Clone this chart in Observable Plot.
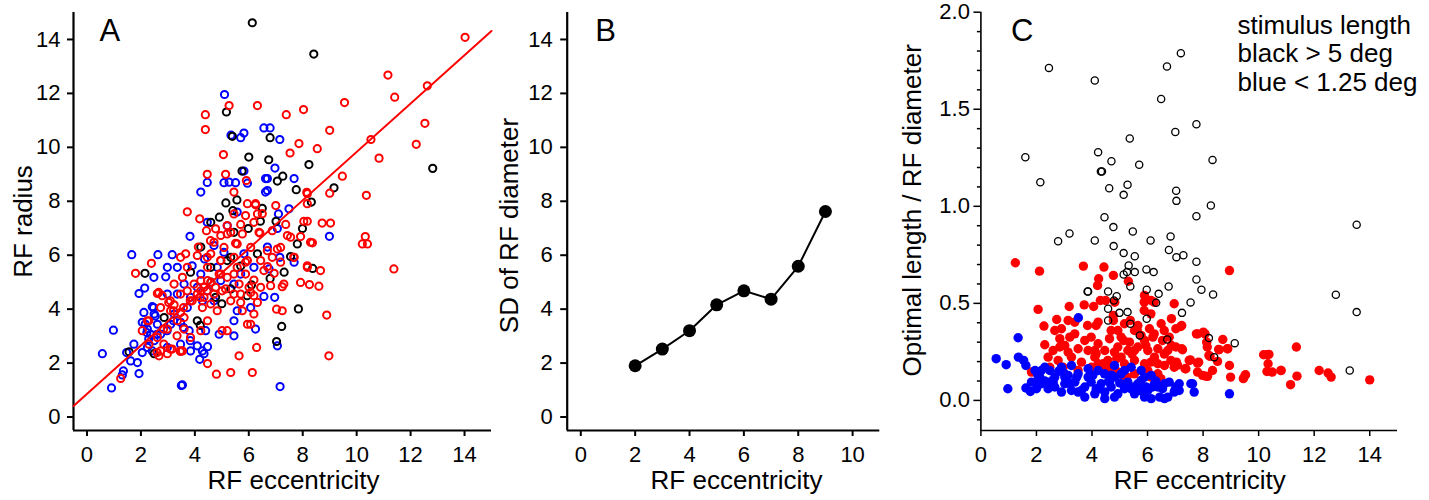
<!DOCTYPE html>
<html><head><meta charset="utf-8">
<script src="https://cdn.jsdelivr.net/npm/d3@7"></script>
<script src="https://cdn.jsdelivr.net/npm/@observablehq/plot@0.6"></script>
<style>
body{margin:0;background:#fff;}
#wrap{position:relative;width:1429px;height:500px;overflow:hidden;background:#fff;}
.panel{position:absolute;top:0;}
</style></head><body><div id="wrap"></div>
<script>
// ---------- Panel A data: RF radius vs RF eccentricity ----------
const aXTicks = [0, 2, 4, 6, 8, 10, 12, 14];
const aYTicks = [0, 2, 4, 6, 8, 10, 12, 14];
const aFitIntercept = 0.86;
const aFitSlope = 0.897;
const aBlack = [[6.13,14.62],[8.41,13.46],[12.82,9.22],[5.17,11.31],[5.39,10.41],[6.79,10.36],[6.0,9.64],[6.74,9.54],[5.75,9.12],[8.23,9.36],[7.26,8.93],[7.06,8.75],[7.76,8.43],[9.16,8.5],[8.32,7.97],[5.15,7.94],[5.56,8.05],[5.41,7.65],[6.5,7.74],[6.43,7.26],[7.01,7.26],[4.59,7.22],[4.91,7.41],[5.98,6.99],[7.99,6.99],[5.45,6.85],[7.8,6.42],[4.22,6.3],[6.32,6.05],[7.55,5.95],[8.37,5.51],[7.31,5.37],[3.84,5.37],[2.15,5.33],[4.59,5.55],[5.33,5.92],[6.79,5.14],[7.84,4.01],[7.22,3.36],[7.03,2.8],[2.49,2.35],[1.56,2.42],[4.09,3.57],[4.77,4.44],[5.94,4.5],[5.33,4.75],[2.86,3.69],[5.2,5.8],[4.6,5.0],[5.7,5.6],[6.1,4.9],[4.2,3.4],[5.0,4.2]];
const aBlue = [[5.1,11.96],[5.34,10.45],[5.7,10.36],[5.82,10.53],[6.56,10.72],[6.79,10.72],[7.15,10.29],[4.22,8.34],[4.46,8.7],[5.08,8.69],[5.27,8.71],[5.51,8.69],[5.95,8.67],[5.82,9.12],[6.69,8.84],[6.69,8.4],[7.68,8.84],[6.97,9.23],[7.49,7.72],[7.1,7.53],[7.06,6.99],[5.57,7.6],[4.46,7.22],[5.2,7.09],[3.82,6.7],[8.99,6.7],[1.66,6.02],[2.63,6.02],[3.16,6.02],[2.98,5.55],[2.92,5.2],[3.35,5.55],[2.48,5.18],[2.14,4.78],[1.93,4.58],[3.9,5.61],[4.36,5.86],[4.71,6.36],[5.08,6.11],[6.69,6.3],[7.15,5.92],[7.68,5.74],[6.75,5.49],[6.56,4.47],[6.96,4.44],[6.07,4.06],[2.11,3.88],[2.42,4.09],[2.49,3.82],[2.05,3.51],[2.24,3.26],[2.36,3.07],[2.49,2.83],[2.24,2.58],[2.42,2.45],[1.74,2.7],[2.05,2.39],[1.47,2.39],[1.62,2.08],[1.87,2.02],[1.93,1.61],[1.35,1.71],[1.31,1.56],[0.98,3.22],[0.57,2.35],[0.91,1.08],[3.54,1.19],[3.5,1.17],[7.16,1.13],[7.06,2.64],[6.25,3.26],[5.45,3.01],[4.9,3.07],[3.84,2.45],[4.09,2.64],[4.28,2.45],[4.47,2.61],[4.18,2.14],[4.34,2.35],[3.79,3.2],[3.47,3.51],[3.23,3.82],[2.98,4.56],[3.35,4.56],[3.72,4.06],[4.09,4.81],[4.47,4.68],[4.71,4.31],[5.45,3.57],[5.45,4.93],[4.96,5.06],[5.7,5.3],[5.82,6.05],[6.19,5.55],[5.57,3.94],[2.73,3.07],[3.1,3.44],[2.98,2.58],[3.47,2.7],[4.4,3.2],[4.28,4.31],[3.6,4.93],[3.84,4.44],[4.22,5.3],[4.83,5.55],[2.61,3.44],[2.47,4.06],[2.53,3.75],[2.16,3.45],[2.22,3.13],[2.29,2.89],[2.6,3.07],[2.97,3.2],[3.21,3.57],[3.58,3.32],[3.83,2.83],[6.62,8.84],[6.62,8.34]];
const aRed = [[14.02,14.08],[11.16,12.68],[12.62,12.28],[11.41,11.86],[9.55,11.66],[8.03,11.4],[7.39,11.21],[6.32,11.55],[5.27,11.55],[4.39,11.21],[4.39,10.66],[9.0,10.63],[10.53,10.29],[12.21,10.11],[12.53,10.89],[7.86,10.14],[8.54,9.95],[7.53,9.79],[5.06,9.73],[10.83,9.6],[4.46,9.0],[5.14,9.0],[5.91,8.77],[9.47,8.93],[5.45,8.34],[8.15,8.33],[9.0,8.3],[10.36,8.22],[8.17,7.91],[3.72,7.61],[4.18,7.35],[4.43,6.91],[5.95,7.91],[6.25,7.91],[7.0,7.84],[6.32,7.53],[5.88,7.47],[5.7,7.14],[7.37,7.14],[8.17,7.26],[9.03,7.19],[7.43,6.73],[7.92,6.69],[8.36,6.46],[10.32,6.69],[10.21,6.42],[10.4,6.42],[11.38,5.49],[8.17,5.61],[7.68,5.92],[7.06,6.23],[6.41,6.82],[5.51,6.44],[5.2,6.79],[4.71,6.48],[4.13,6.3],[4.09,5.99],[3.66,6.05],[3.47,5.92],[2.39,5.7],[1.8,5.33],[3.72,5.55],[2.61,4.58],[2.79,4.5],[3.03,4.25],[3.23,4.16],[3.47,3.88],[3.6,3.69],[3.1,3.94],[2.24,3.57],[2.05,3.2],[2.3,2.7],[2.73,2.45],[2.98,2.35],[3.16,2.52],[3.47,2.43],[3.54,2.45],[2.67,2.27],[1.25,1.43],[4.47,1.98],[4.8,1.59],[5.33,1.65],[6.13,1.65],[5.64,2.27],[6.29,2.58],[8.97,2.27],[8.89,3.78],[7.03,4.0],[7.24,3.94],[8.25,4.91],[8.6,4.85],[7.24,4.83],[6.44,4.81],[6.19,5.08],[6.94,5.33],[6.69,5.58],[5.95,3.44],[6.07,3.44],[6.19,3.82],[5.76,3.94],[5.2,3.2],[5.01,3.2],[4.83,3.94],[4.47,3.57],[4.22,3.2],[3.84,2.95],[3.6,3.26],[3.35,3.57],[3.9,4.31],[4.09,4.56],[4.34,4.81],[4.59,4.99],[4.9,5.3],[4.22,5.06],[4.71,4.56],[5.2,5.18],[5.57,5.55],[5.88,5.74],[5.45,5.92],[4.47,5.55],[3.54,5.18],[3.23,4.93],[3.72,4.68],[4.28,4.06],[5.01,4.68],[5.64,4.93],[6.07,4.62],[5.33,4.31],[6.32,4.25],[5.7,4.56],[6.56,5.43],[6.44,5.8],[4.96,5.8],[4.59,6.05],[3.97,4.93],[2.73,4.06],[2.98,3.26],[2.61,2.95],[2.85,2.7],[4.59,4.19],[4.96,5.3],[5.88,5.3],[5.45,5.3],[4.22,4.68],[3.47,4.56],[4.47,5.06],[4.77,4.81],[4.34,4.44],[5.14,4.75],[5.45,4.56],[6.01,4.81],[6.19,4.5],[5.7,4.25],[2.66,4.62],[3.09,4.31],[3.21,3.94],[3.58,4.06],[3.83,4.31],[4.2,4.43],[4.45,4.68],[2.29,3.57],[2.84,3.26],[3.34,3.01],[2.6,2.39],[3.09,2.52],[3.46,2.45],[6.25,7.87],[6.5,7.54],[5.45,7.53],[6.19,7.22],[5.2,7.1],[4.77,6.98],[4.96,6.73],[5.33,6.85],[5.76,6.79],[6.38,6.85],[6.87,6.91],[8.04,7.26],[7.55,6.67],[8.29,6.48],[8.72,7.19],[8.17,8.28],[4.58,6.54],[5.08,6.29],[5.57,6.42],[6.07,6.29],[6.69,6.17],[7.18,6.29],[4.46,5.92],[4.96,5.8],[5.95,5.8],[6.87,5.92],[7.18,5.74],[7.67,5.92],[8.17,5.55],[8.66,5.43],[7.92,4.99],[7.3,4.93],[6.81,4.87]];

// ---------- Panel B data: SD of RF diameter ----------
const bXTicks = [0, 2, 4, 6, 8, 10];
const bYTicks = [0, 2, 4, 6, 8, 10, 12, 14];
const bEcc = [2, 3, 4, 5, 6, 7, 8, 9];
const bSD = [1.90, 2.52, 3.20, 4.16, 4.68, 4.37, 5.59, 7.62];

// ---------- Panel C data: optimal length / RF diameter ----------
const cXTicks = [0, 2, 4, 6, 8, 10, 12, 14];
const cYTicks = [0, 0.5, 1.0, 1.5, 2.0];
const cYMinor = [-0.1,0.1,0.2,0.3,0.4,0.6,0.7,0.8,0.9,1.1,1.2,1.3,1.4,1.6,1.7,1.8,1.9];
const cLegend = ["stimulus length", "black > 5 deg", "blue < 1.25 deg"];
const cBlack = [[2.45,1.713],[4.1,1.648],[6.7,1.72],[7.2,1.789],[6.49,1.553],[7.76,1.423],[7.0,1.383],[5.36,1.349],[1.6,1.253],[4.22,1.279],[4.7,1.232],[4.32,1.179],[4.36,1.179],[5.7,1.214],[8.34,1.239],[2.14,1.124],[5.28,1.111],[4.62,1.093],[5.14,1.059],[7.03,1.08],[7.04,1.028],[8.28,1.004],[7.76,0.949],[4.45,0.944],[4.77,0.893],[5.47,0.87],[3.19,0.86],[2.78,0.82],[4.1,0.824],[6.11,0.824],[6.83,0.845],[4.78,0.795],[5.14,0.759],[5.54,0.743],[6.77,0.775],[7.04,0.738],[7.29,0.748],[7.76,0.714],[5.32,0.695],[5.26,0.661],[5.54,0.661],[5.14,0.649],[5.96,0.675],[6.22,0.661],[7.76,0.623],[5.38,0.587],[6.76,0.587],[3.84,0.561],[3.86,0.561],[5.97,0.57],[6.4,0.549],[7.94,0.57],[8.36,0.546],[4.58,0.561],[4.89,0.537],[4.79,0.515],[6.31,0.503],[7.55,0.505],[4.58,0.472],[4.99,0.451],[5.28,0.455],[7.24,0.451],[4.58,0.412],[5.97,0.421],[5.38,0.395],[5.72,0.335],[6.71,0.314],[8.21,0.321],[9.14,0.295],[8.4,0.223],[12.78,0.544],[13.53,0.455],[13.53,0.905],[13.28,0.154]];
const cRed = [[1.24,0.709],[2.11,0.666],[2.06,0.469],[2.27,0.383],[2.73,0.417],[3.18,0.484],[3.69,0.692],[4.43,0.687],[4.24,0.627],[4.2,0.592],[4.77,0.644],[5.31,0.614],[8.95,0.669],[3.72,0.492],[4.06,0.484],[4.3,0.515],[4.82,0.506],[5.88,0.506],[6.24,0.506],[5.88,0.463],[6.12,0.446],[4.77,0.438],[4.77,0.412],[5.38,0.412],[3.84,0.386],[4.15,0.386],[6.49,0.395],[6.86,0.421],[7.23,0.386],[7.76,0.343],[8.07,0.343],[8.71,0.314],[8.89,0.266],[8.56,0.263],[8.15,0.275],[8.21,0.232],[8.52,0.201],[8.95,0.18],[8.99,0.12],[8.34,0.154],[8.09,0.125],[7.84,0.197],[7.54,0.209],[7.35,0.163],[7.04,0.197],[7.23,0.266],[6.86,0.283],[6.61,0.24],[10.18,0.235],[10.3,0.235],[10.34,0.189],[10.3,0.149],[10.8,0.154],[11.36,0.275],[11.38,0.125],[11.15,0.081],[12.18,0.154],[12.5,0.141],[12.61,0.12],[14.0,0.106],[9.51,0.129],[9.45,0.112],[4.49,0.515],[3.14,0.412],[2.66,0.36],[2.9,0.369],[3.38,0.343],[3.97,0.326],[4.69,0.36],[5.17,0.395],[5.53,0.36],[5.77,0.335],[6.07,0.369],[6.54,0.309],[7.02,0.369],[2.3,0.287],[2.6,0.257],[3.02,0.283],[3.5,0.266],[3.86,0.257],[4.22,0.292],[4.46,0.257],[4.93,0.275],[5.29,0.257],[5.65,0.275],[6.01,0.257],[6.37,0.266],[6.73,0.257],[2.42,0.223],[2.78,0.206],[3.26,0.223],[3.62,0.197],[4.1,0.223],[4.57,0.206],[5.05,0.223],[5.53,0.206],[5.89,0.189],[6.25,0.223],[6.61,0.18],[6.96,0.171],[2.96,0.171],[3.5,0.154],[4.93,0.146],[5.17,0.112],[5.53,0.137],[6.13,0.12],[6.48,0.112],[4.69,0.171],[1.82,0.146],[5.63,0.36],[5.14,0.309],[5.94,0.283],[6.24,0.343],[5.44,0.24],[4.89,0.215],[4.4,0.189],[4.15,0.24],[6.12,0.197],[5.81,0.154],[6.37,0.137],[5.26,0.12],[7.2,0.381],[7.8,0.343],[8.01,0.352],[8.13,0.3],[7.26,0.261],[8.58,0.261],[8.87,0.266],[8.25,0.227],[7.5,0.206],[7.8,0.192],[7.08,0.182],[7.38,0.163],[7.8,0.146],[7.98,0.129],[8.16,0.124],[9.53,0.132],[10.37,0.237],[10.49,0.146],[10.81,0.154],[2.84,0.318],[3.2,0.326],[3.74,0.309],[4.63,0.318],[5.05,0.326],[5.35,0.3],[5.89,0.309],[6.19,0.326],[6.78,0.326],[7.02,0.275],[2.48,0.171],[3.98,0.171],[4.22,0.189],[4.45,0.154],[5.17,0.189],[6.01,0.154],[6.37,0.189],[6.84,0.206],[3.14,0.249],[4.1,0.257],[4.81,0.249],[5.53,0.257],[6.6,0.24],[2.84,0.275],[6.96,0.498],[5.89,0.541],[6.13,0.515],[3.38,0.403],[4.22,0.403],[4.93,0.36],[5.65,0.386],[6.6,0.36]];
const cBlue = [[3.51,0.426],[1.34,0.323],[0.55,0.215],[0.91,0.184],[0.97,0.06],[1.35,0.223],[1.54,0.206],[1.62,0.18],[1.62,0.064],[1.78,0.046],[8.95,0.034],[1.95,0.154],[2.12,0.12],[2.3,0.171],[2.18,0.086],[2.42,0.06],[2.48,0.154],[2.66,0.12],[2.9,0.043],[3.02,0.086],[3.14,0.129],[3.38,0.094],[3.5,0.043],[3.74,0.069],[3.86,0.12],[3.86,0.163],[4.1,0.034],[4.33,0.086],[4.46,0.043],[4.46,0.009],[4.69,0.069],[4.81,0.12],[4.93,0.034],[5.17,0.06],[5.41,0.171],[5.53,0.034],[5.65,0.086],[5.89,0.017],[6.01,0.051],[6.13,0.129],[6.37,0.069],[6.61,0.086],[6.73,0.017],[6.96,0.043],[2.9,0.171],[3.26,0.18],[4.22,0.154],[4.81,0.18],[3.97,0.094],[2.66,0.069],[3.26,0.051],[5.29,0.094],[5.89,0.12],[6.44,0.017],[5.17,0.154],[5.77,0.154],[2.0,0.094],[3.74,0.017],[6.13,0.009],[7.14,0.086],[7.14,0.051],[7.56,0.086],[7.68,0.043],[7.62,0.086],[6.61,0.009],[6.98,0.051],[6.18,0.069],[2.05,0.13],[2.55,0.1],[3.0,0.14],[3.45,0.12],[4.0,0.13],[4.6,0.1],[5.0,0.09],[5.4,0.06],[5.75,0.05],[6.3,0.1],[2.3,0.1],[2.8,0.15],[4.25,0.06],[4.7,0.13],[2.18,0.154],[2.6,0.094],[2.84,0.154],[3.2,0.086],[3.5,0.137],[3.62,0.051],[4.03,0.129],[4.15,0.06],[4.63,0.094],[4.81,0.017],[5.05,0.137],[5.35,0.069],[5.77,0.103],[5.95,0.069],[6.25,0.086],[6.54,0.06],[6.78,0.094],[7.02,0.069],[2.36,0.094],[3.02,0.12],[4.45,0.137],[5.53,0.069],[1.82,0.094],[2.0,0.06]];

// ---------- styling ----------
const RED = "#ff0000", BLUE = "#0000ff", BLACK = "#000000";
const FONT = "'Liberation Sans', Arial, Helvetica, sans-serif";
const wrap = document.getElementById("wrap");
const px = d => d[0], py = d => d[1];

function mount(left, svg) {
  const d = document.createElement("div");
  d.className = "panel";
  d.style.left = left + "px";
  d.appendChild(svg);
  wrap.appendChild(d);
}
const baseStyle = {fontFamily: FONT, fontSize: "22px", background: "white", overflow: "visible", color: "black"};
const txt = (s, o) => Plot.text([s], {text: d => d, fontSize: 26, fill: "black", ...o});

// ---------- Panel A ----------
const aXDomain = [-0.5, 15], aYDomain = [-0.5, 15];
const aFitLine = aXDomain.map(x => ({x, y: aFitIntercept + aFitSlope * x}));
mount(0, Plot.plot({
  width: 500, height: 500,
  marginLeft: 73, marginRight: 9, marginTop: 12, marginBottom: 70,
  x: {domain: aXDomain}, y: {domain: aYDomain},
  style: baseStyle,
  marks: [
    Plot.axisX(aXTicks, {tickSize: 6, tickPadding: 10, strokeWidth: 2, label: null}),
    Plot.axisY(aYTicks, {tickSize: 6, tickPadding: 7, strokeWidth: 2, label: null}),
    Plot.ruleX([aXDomain[0]], {strokeWidth: 2.2}),
    Plot.ruleY([aYDomain[0]], {strokeWidth: 2.2}),
    Plot.dot(aBlue, {x: px, y: py, r: 3.6, stroke: BLUE, strokeWidth: 2}),
    Plot.dot(aBlack, {x: px, y: py, r: 3.6, stroke: BLACK, strokeWidth: 2}),
    Plot.line(aFitLine, {x: "x", y: "y", stroke: RED, strokeWidth: 2}),
    Plot.dot(aRed, {x: px, y: py, r: 3.6, stroke: RED, strokeWidth: 2}),
    txt("RF eccentricity", {frameAnchor: "bottom", dx: 11, dy: 58, lineAnchor: "bottom"}),
    txt("RF radius", {frameAnchor: "left", rotate: -90, textAnchor: "middle", dx: -41.5, dy: 0, lineAnchor: "bottom"}),
    txt("A", {frameAnchor: "top-left", textAnchor: "start", dx: 26, dy: 28, lineAnchor: "bottom", fontSize: 31})
  ]
}));

// ---------- Panel B ----------
const bXDomain = [-0.5, 11], bYDomain = [-0.5, 15];
const bRows = bEcc.map((e, i) => ({ecc: e, sd: bSD[i]}));
mount(500, Plot.plot({
  width: 390, height: 500,
  marginLeft: 66.7, marginRight: 10.7, marginTop: 12, marginBottom: 70,
  x: {domain: bXDomain}, y: {domain: bYDomain},
  style: baseStyle,
  marks: [
    Plot.axisX(bXTicks, {tickSize: 6, tickPadding: 10, strokeWidth: 2, label: null}),
    Plot.axisY(bYTicks, {tickSize: 6.5, tickPadding: 8, strokeWidth: 2, label: null}),
    Plot.ruleX([bXDomain[0]], {strokeWidth: 2.2}),
    Plot.ruleY([bYDomain[0]], {strokeWidth: 2.2}),
    Plot.line(bRows, {x: "ecc", y: "sd", stroke: BLACK, strokeWidth: 2}),
    Plot.dot(bRows, {x: "ecc", y: "sd", r: 6.5, fill: BLACK}),
    txt("RF eccentricity", {frameAnchor: "bottom", dx: 13, dy: 58, lineAnchor: "bottom"}),
    txt("SD of RF diameter", {frameAnchor: "left", rotate: -90, textAnchor: "middle", dx: -49.5, dy: 4, lineAnchor: "bottom"}),
    txt("B", {frameAnchor: "top-left", textAnchor: "start", dx: 28, dy: 28, lineAnchor: "bottom", fontSize: 31})
  ]
}));

// ---------- Panel C ----------
const cXDomain = [0, 15], cYDomain = [-0.155, 2.0];
mount(890, Plot.plot({
  width: 539, height: 500,
  marginLeft: 90.4, marginRight: 32, marginTop: 11.7, marginBottom: 70,
  x: {domain: cXDomain}, y: {domain: cYDomain},
  style: baseStyle,
  marks: [
    Plot.axisX(cXTicks, {tickSize: 6, tickPadding: 10, strokeWidth: 1.5, label: null}),
    Plot.axisY(cYTicks, {tickSize: 7, tickPadding: 4, strokeWidth: 1.5, label: null, tickFormat: d3.format(".1f")}),
    Plot.axisY(cYMinor, {tickSize: 3.5, strokeWidth: 1.5, label: null, tickFormat: () => ""}),
    Plot.ruleX([cXDomain[0]], {strokeWidth: 1.6}),
    Plot.ruleY([cYDomain[0]], {strokeWidth: 1.6}),
    Plot.dot(cRed, {x: px, y: py, r: 4.7, fill: RED}),
    Plot.dot(cBlue, {x: px, y: py, r: 4.7, fill: BLUE}),
    Plot.dot(cBlack, {x: px, y: py, r: 3.6, stroke: BLACK, strokeWidth: 1.3, fill: "white", fillOpacity: 0}),
    txt("RF eccentricity", {frameAnchor: "bottom", dx: 10.6, dy: 58, lineAnchor: "bottom"}),
    txt("Optimal length / RF diameter", {frameAnchor: "left", rotate: -90, textAnchor: "middle", dx: -60, dy: -11, lineAnchor: "bottom"}),
    txt("C", {frameAnchor: "top-left", textAnchor: "start", dx: 30, dy: 29, lineAnchor: "bottom", fontSize: 31}),
    txt(cLegend.join("\n"), {frameAnchor: "top-left", textAnchor: "start", dx: 256.6, dy: 78.3, lineAnchor: "bottom", lineHeight: 1.088})
  ]
}));
</script>
</body></html>
